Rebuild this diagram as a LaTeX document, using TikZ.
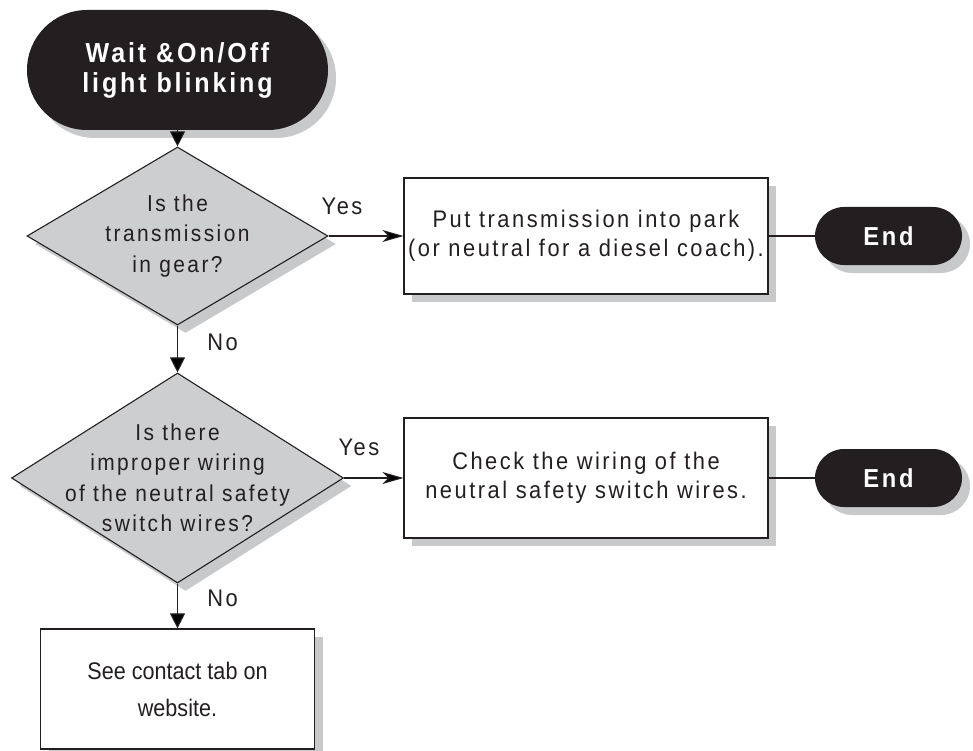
\documentclass[tikz,border=0pt]{standalone}
\usepackage{fontspec}
\setmainfont{Liberation Sans}[FakeStretch=0.91, LetterSpace=10.5]
\newfontfamily\webfont{Liberation Sans}[FakeStretch=0.9]
\usetikzlibrary{shapes.geometric, positioning, arrows.meta, shadows}
\definecolor{ink}{RGB}{35,31,32}
\definecolor{askgray}{RGB}{205,206,208}
\definecolor{castgray}{RGB}{200,201,203}

\begin{document}
\begin{tikzpicture}[node distance=2.5cm, on grid,
		every node/.style={text=ink},
		castshadow/.style={drop shadow={shadow xshift=8pt, shadow yshift=-8pt, fill=castgray, opacity=1}},
		term/.style={castshadow, rectangle, fill=ink, text=white, align=center, font=\fontsize{26}{30}\selectfont\bfseries},
		ask/.style={castshadow, diamond, draw=ink, line width=1.1pt, fill=askgray, inner xsep=-40pt, inner ysep=-20pt, aspect=1.5, align=center, font=\fontsize{23}{30.5}\selectfont},
		act/.style={castshadow, rectangle, draw=ink, line width=1.2pt, fill=white, inner xsep=0pt, align=center, font=\fontsize{24}{28.5}\selectfont},
		vflow/.style={-{Triangle[length=15pt, width=15pt]}, line width=1.1pt, draw=ink},
		hflow/.style={-{Stealth[length=21pt, width=12pt, inset=6pt]}, line width=1.1pt, draw=ink},
		answer/.style={font=\fontsize{24}{28}\selectfont}]
		\useasboundingbox (0pt,0pt) rectangle (973pt,-751pt);
		\node[term, minimum width=301pt, minimum height=120pt, rounded corners=60pt, font=\fontsize{27.5}{30}\selectfont\bfseries] (start) at (177.5pt,-70pt) {Wait \&On/Off\\light blinking};
		\node[ask, minimum width=301pt, minimum height=178pt] (gear) [below=166pt of start] {Is the\\transmission\\in gear?};
		\node[act, minimum width=364pt, minimum height=116pt] (park) [right=408.5pt of gear] {Put transmission into park\\(or neutral for a diesel coach).};
		\node[term, minimum width=147pt, minimum height=58pt, rounded corners=29pt] (end_1) [right=302.5pt of park] {End};
		\node[ask, minimum width=332pt, minimum height=210pt] (wiring) [below=242pt of gear] {Is there\\improper wiring\\of the neutral safety\\switch wires?};
		\node[act, minimum width=364pt, minimum height=120pt] (check) [right=408.5pt of wiring] {Check the wiring of the\\neutral safety switch wires.};
		\node[term, minimum width=147pt, minimum height=58pt, rounded corners=29pt] (end_2) [right=302.5pt of check] {End};
		\node[act, minimum width=274pt, minimum height=120pt, font=\webfont\fontsize{24}{37}\selectfont] (web) [below=211pt of wiring] {See contact tab on\\website.};
		\path[vflow]
		(start) edge (gear)
		(gear) edge node[answer, pos=.36, right=26pt] {No} (wiring)
		(wiring) edge node[answer, pos=.34, right=26pt] {No} (web);
		\path[hflow]
		(gear) edge node[answer, pos=.18, above=17.7pt] {Yes} (park)
		(wiring) edge node[answer, pos=.25, above=18.7pt] {Yes} (check);
		\path[draw=ink, line width=1.1pt]
		(park) edge (end_1)
		(check) edge (end_2);
		\end{tikzpicture}
\end{document}
